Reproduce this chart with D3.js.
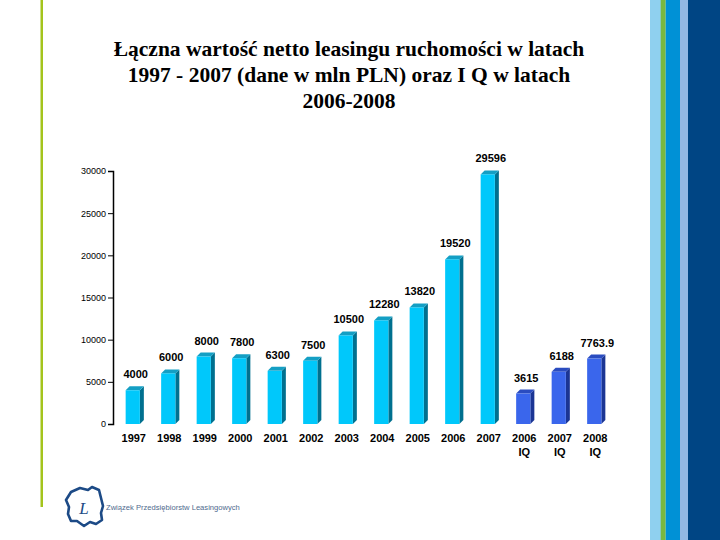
<!DOCTYPE html>
<html><head><meta charset="utf-8">
<script src="https://cdn.jsdelivr.net/npm/d3@7/dist/d3.min.js"></script>
<style>html,body{margin:0;padding:0;background:#fff;}svg{display:block;}</style>
</head><body>
<script>
const titleLines = ["Łączna wartość netto leasingu ruchomości w latach","1997 - 2007 (dane w mln PLN) oraz I Q w latach","2006-2008"];
const categories = ["1997","1998","1999","2000","2001","2002","2003","2004","2005","2006","2007","2006 IQ","2007 IQ","2008 IQ"];
const values = [4000,6000,8000,7800,6300,7500,10500,12280,13820,19520,29596,3615,6188,7763.9];
const valueLabels = ["4000","6000","8000","7800","6300","7500","10500","12280","13820","19520","29596","3615","6188","7763.9"];
const series = ["year","year","year","year","year","year","year","year","year","year","year","q1","q1","q1"];
const yTicks = [0,5000,10000,15000,20000,25000,30000];
const logoText = "Związek Przedsiębiorstw Leasingowych";

const W=720,H=540;
const svg=d3.select("body").append("svg").attr("width",W).attr("height",H);

// decorative stripes right
const stripes=[[650,11,"#8fd0ef"],[660.7,5,"#7ab840"],[665.7,14.5,"#0091d6"],[680,8,"#93b8e3"],[688,32,"#004584"]];
stripes.forEach(s=>svg.append("rect").attr("x",s[0]).attr("y",0).attr("width",s[1]).attr("height",H).attr("fill",s[2]));
// left green line
svg.append("rect").attr("x",40.5).attr("y",0).attr("width",2.5).attr("height",507).attr("fill","#a4c41c");

// title
const t=svg.append("text").attr("text-anchor","middle").attr("font-family","'Liberation Serif','Times New Roman',serif")
 .attr("font-weight","bold").attr("font-size",21.5).attr("fill","#000");
titleLines.forEach((l,i)=>t.append("tspan").attr("x",349).attr("y",56+i*26).text(l));

// scales
const y=d3.scaleLinear().domain([0,30000]).range([424,171]);
const x=d3.scaleBand().domain(categories).range([115,612]).paddingInner(0.6).paddingOuter(0.3);
const d=4;
const col={year:{front:"#00c8fb",side:"#00708f",top:"#149fc4"},q1:{front:"#3a66ec",side:"#1b3594",top:"#2a4cc0"}};

// y axis
const ya=svg.append("g").attr("transform","translate(113,0)")
 .call(d3.axisLeft(y).tickValues(yTicks).tickSize(5).tickPadding(2).tickFormat(d3.format("d")));
ya.select(".domain").attr("stroke","#000").attr("stroke-width",1.5);
ya.selectAll(".tick line").attr("stroke","#000");
ya.selectAll("text").attr("font-family","Arial,'Liberation Sans',sans-serif").attr("font-size",9).attr("fill","#000");

// bars
const g=svg.append("g");
categories.forEach((c,i)=>{
  const x0=x(c), w=x.bandwidth(), top=y(values[i]), b=y(0), k=col[series[i]];
  g.append("path").attr("fill",k.side).attr("d",`M${x0+w},${top}L${x0+w+d},${top-d}L${x0+w+d},${b-d}L${x0+w},${b}Z`);
  g.append("path").attr("fill",k.top).attr("d",`M${x0},${top}L${x0+d},${top-d}L${x0+w+d},${top-d}L${x0+w},${top}Z`);
  g.append("rect").attr("x",x0).attr("y",top).attr("width",w).attr("height",b-top).attr("fill",k.front);
  g.append("text").attr("x",x0+w/2+3).attr("y",top-12).attr("text-anchor","middle")
   .attr("font-family","Arial,'Liberation Sans',sans-serif").attr("font-weight","bold").attr("font-size",11)
   .attr("fill","#000").text(valueLabels[i]);
});

// x axis labels
const xa=svg.append("g").attr("transform","translate(1,432)").call(d3.axisBottom(x).tickSize(0).tickPadding(0).tickFormat(""));
xa.select(".domain").remove();
xa.selectAll(".tick").each(function(c){
  const parts=c.split(" ");
  const tx=d3.select(this).append("text").attr("text-anchor","middle").attr("fill","#000")
   .attr("font-family","Arial,'Liberation Sans',sans-serif").attr("font-weight","bold").attr("font-size",11);
  parts.forEach((p,j)=>tx.append("tspan").attr("x",0).attr("y",10+j*14).text(p));
});

// logo
const lg=svg.append("g");
lg.append("path").attr("fill","none").attr("stroke","#1c4a86").attr("stroke-width",2.6).attr("stroke-linejoin","round")
 .attr("d","M71,492 L80,488 L88,490 L92,487 L99,490 L101,498 L103,506 L101,513 L102,520 L96,524 L90,522 L84,526 L77,521 L71,521 L68,514 L69,507 L66,500 Z");
lg.append("text").attr("x",84).attr("y",514).attr("text-anchor","middle").attr("font-family","'Liberation Serif',serif")
 .attr("font-style","italic").attr("font-size",17).attr("fill","#1c4a86").text("L");
lg.append("text").attr("x",106).attr("y",510).attr("font-family","Arial,'Liberation Sans',sans-serif")
 .attr("font-size",7.6).attr("fill","#4f6a8e").text(logoText);
</script>
</body></html>
